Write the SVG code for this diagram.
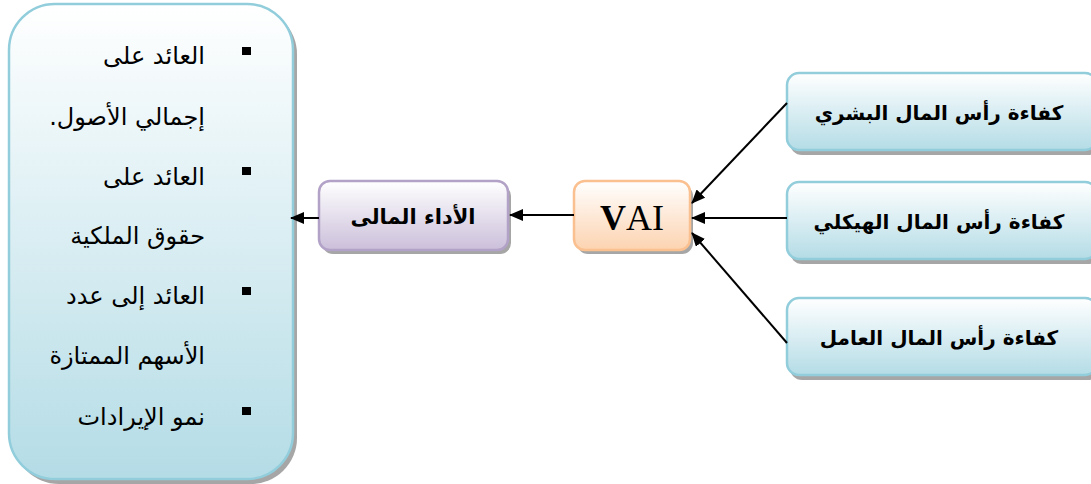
<svg xmlns="http://www.w3.org/2000/svg" width="1091" height="484" viewBox="0 0 1091 484">
  <defs>
    <linearGradient id="gBlue" x1="0" y1="0" x2="0" y2="1">
      <stop offset="0" stop-color="#ffffff"/>
      <stop offset="1" stop-color="#b4dce6"/>
    </linearGradient>
    <linearGradient id="gPurple" x1="0" y1="0" x2="0" y2="1">
      <stop offset="0" stop-color="#ffffff"/>
      <stop offset="1" stop-color="#cbbfda"/>
    </linearGradient>
    <linearGradient id="gOrange" x1="0" y1="0" x2="0" y2="1">
      <stop offset="0" stop-color="#ffffff"/>
      <stop offset="1" stop-color="#fcd3b0"/>
    </linearGradient>
    <marker id="arrow" viewBox="0 0 14 12" refX="13" refY="6" markerWidth="14" markerHeight="12" markerUnits="userSpaceOnUse" orient="auto">
      <path d="M0,0 L14,6 L0,12 z" fill="#000"/>
    </marker>
  </defs>
  <style>
    .shadow { fill: #a6a6a6; }
    .blue { fill: url(#gBlue); stroke: #92cddc; stroke-width: 2.5; }
    .purple { fill: url(#gPurple); stroke: #b3a2c7; stroke-width: 2.5; }
    .orange { fill: url(#gOrange); stroke: #fac090; stroke-width: 2.5; }
    .ar { font-family: "DejaVu Sans", "Noto Sans", sans-serif; fill: #000; }
    .lbl { font-size: 20px; font-weight: bold; text-anchor: middle; }
    .item { font-size: 24px; direction: rtl; text-anchor: start; }
    .conn { stroke: #000; stroke-width: 2; fill: none; marker-end: url(#arrow); }
  </style>

  <!-- indicators panel -->
  <g id="indicators">
    <rect class="shadow" x="13" y="8" width="284" height="476" rx="46"/>
    <rect class="blue" x="9" y="4" width="284" height="475" rx="46"/>
    <rect x="242" y="47" width="9" height="8" fill="#000"/>
    <rect x="242" y="167" width="9" height="8" fill="#000"/>
    <rect x="242" y="287" width="9" height="8" fill="#000"/>
    <rect x="242" y="407" width="9" height="8" fill="#000"/>
    <text class="ar item" x="205" y="64">العائد على</text>
    <text class="ar item" x="205" y="125">إجمالي الأصول.</text>
    <text class="ar item" x="205" y="185">العائد على</text>
    <text class="ar item" x="205" y="244">حقوق الملكية</text>
    <text class="ar item" x="205" y="304">العائد إلى عدد</text>
    <text class="ar item" x="205" y="364">الأسهم الممتازة</text>
    <text class="ar item" x="205" y="425">نمو الإيرادات</text>
  </g>

  <!-- financial performance -->
  <g id="performance">
    <rect class="shadow" x="322" y="185" width="189" height="69" rx="11"/>
    <rect class="purple" x="319" y="181" width="189" height="69" rx="11"/>
    <text class="ar" x="413" y="224" font-size="21" font-weight="bold" text-anchor="middle">الأداء المالى</text>
  </g>

  <!-- VAI -->
  <g id="vai">
    <rect class="shadow" x="577" y="185" width="116" height="69" rx="11"/>
    <rect class="orange" x="574" y="181" width="116" height="69" rx="11"/>
    <text x="632" y="230" font-family="Liberation Serif, serif" font-size="36" text-anchor="middle" fill="#000"><tspan font-weight="bold">V</tspan>AI</text>
  </g>

  <!-- capital efficiency inputs -->
  <g id="human">
    <rect class="shadow" x="790" y="77" width="310" height="78" rx="12"/>
    <rect class="blue" x="787" y="73" width="310" height="77" rx="12"/>
    <text class="ar lbl" x="939" y="120">كفاءة رأس المال البشري</text>
  </g>
  <g id="structural">
    <rect class="shadow" x="790" y="186" width="310" height="78" rx="12"/>
    <rect class="blue" x="787" y="182" width="310" height="77" rx="12"/>
    <text class="ar lbl" x="939" y="229">كفاءة رأس المال الهيكلي</text>
  </g>
  <g id="employed">
    <rect class="shadow" x="790" y="302" width="310" height="78" rx="12"/>
    <rect class="blue" x="787" y="298" width="310" height="77" rx="12"/>
    <text class="ar lbl" x="939" y="345">كفاءة رأس المال العامل</text>
  </g>

  <!-- connectors -->
  <g id="connectors">
    <line class="conn" x1="787" y1="103" x2="692" y2="203"/>
    <line class="conn" x1="787" y1="218" x2="692" y2="218"/>
    <line class="conn" x1="787" y1="343" x2="692" y2="233"/>
    <line class="conn" x1="574" y1="215" x2="510" y2="215"/>
    <line class="conn" x1="319" y1="218" x2="291" y2="218"/>
  </g>
</svg>
